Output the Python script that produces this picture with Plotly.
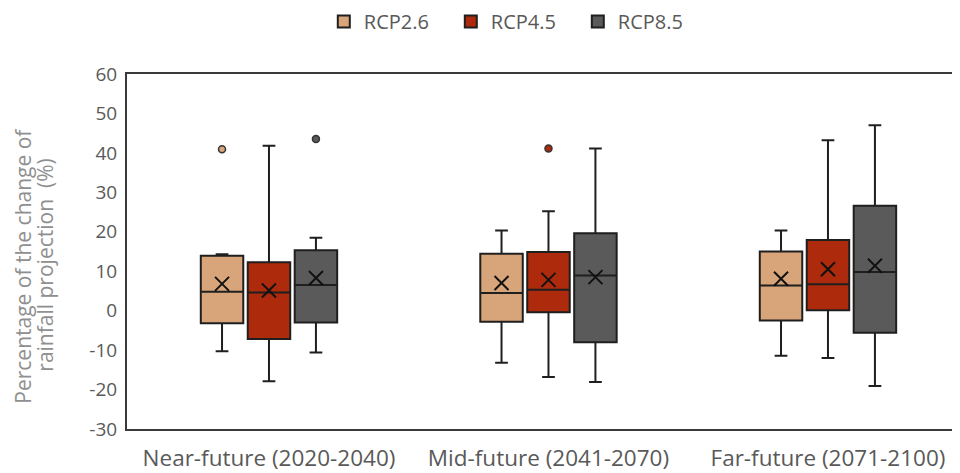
import plotly.graph_objects as go

categories = ["Near-future (2020-2040)", "Mid-future (2041-2070)", "Far-future (2071-2100)"]
series = ["RCP2.6", "RCP4.5", "RCP8.5"]

q1 = {
    "RCP2.6": [-3.2, -2.8, -2.5],
    "RCP4.5": [-7.2, -0.4, 0.1],
    "RCP8.5": [-3.0, -8.0, -5.6],
}
median = {
    "RCP2.6": [4.8, 4.5, 6.4],
    "RCP4.5": [4.6, 5.3, 6.7],
    "RCP8.5": [6.5, 8.9, 9.8],
}
q3 = {
    "RCP2.6": [13.9, 14.4, 15.0],
    "RCP4.5": [12.3, 14.9, 17.9],
    "RCP8.5": [15.3, 19.6, 26.6],
}
lower = {
    "RCP2.6": [-10.3, -13.2, -11.4],
    "RCP4.5": [-17.9, -16.8, -12.0],
    "RCP8.5": [-10.6, -18.1, -19.1],
}
upper = {
    "RCP2.6": [14.3, 20.3, 20.3],
    "RCP4.5": [41.8, 25.2, 43.2],
    "RCP8.5": [18.5, 41.1, 47.0],
}
mean = {
    "RCP2.6": [6.8, 7.0, 8.1],
    "RCP4.5": [5.1, 7.8, 10.5],
    "RCP8.5": [8.3, 8.5, 11.4],
}
outliers = {
    "RCP2.6": [(0, 40.9)],
    "RCP4.5": [(1, 41.1)],
    "RCP8.5": [(0, 43.5)],
}
y_ticks = [-30, -20, -10, 0, 10, 20, 30, 40, 50, 60]
y_ticktext = ["-30", "-20", "-10", "0", "10", "20", "30", "40", "50", "60"]
y_title_lines = ["Percentage of the change of", "rainfall projection  (%)"]

colors = {"RCP2.6": "#D8A57B", "RCP4.5": "#AE2A0C", "RCP8.5": "#5A5A5A"}
offsets = {"RCP2.6": -0.168, "RCP4.5": 0.0, "RCP8.5": 0.168}
edge = "#1f1f1f"

fig = go.Figure()
for s in series:
    xs = [i + offsets[s] for i in range(len(categories))]
    fig.add_trace(go.Box(
        name=s, x=xs, q1=q1[s], median=median[s], q3=q3[s],
        lowerfence=lower[s], upperfence=upper[s],
        width=0.152, whiskerwidth=0.3,
        fillcolor=colors[s], line=dict(color=edge, width=2),
        boxpoints=False, showlegend=True, hoverinfo="skip",
    ))
    fig.add_trace(go.Scatter(
        x=xs, y=mean[s], mode="markers", showlegend=False, hoverinfo="skip",
        marker=dict(symbol="x-thin", size=14, line=dict(color="#111111", width=2)),
    ))
    if outliers[s]:
        fig.add_trace(go.Scatter(
            x=[o[0] + offsets[s] for o in outliers[s]], y=[o[1] for o in outliers[s]],
            mode="markers", showlegend=False, hoverinfo="skip",
            marker=dict(symbol="circle", size=7, color=colors[s], line=dict(color="#333333", width=1.5)),
        ))

for txt, shift in zip(y_title_lines, [-104, -82]):
    fig.add_annotation(text=txt, xref="paper", yref="paper", x=0, y=0.46,
                       xanchor="center", yanchor="middle", xshift=shift, textangle=-90,
                       showarrow=False, font=dict(size=21, color="#8f8f8f"))

fig.update_layout(
    width=960, height=473,
    margin=dict(l=119, r=0, t=66, b=52, autoexpand=False),
    paper_bgcolor="white", plot_bgcolor="white",
    font=dict(family="Open Sans", color="#595959"),
    legend=dict(orientation="h", x=0.234, xanchor="left", yref="paper", y=1.148, yanchor="middle",
                font=dict(size=20, color="#595959"), itemwidth=30, traceorder="normal",
                entrywidth=82, entrywidthmode="pixels"),
    xaxis=dict(range=[-0.508, 2.501], tickvals=[0, 1, 2], ticktext=categories,
               showline=True, mirror=True, linecolor="#3a3a3a", linewidth=2,
               showgrid=False, zeroline=False, tickfont=dict(size=22.5, color="#595959"),
               ticks="", ticklabelstandoff=8, automargin=False),
    yaxis=dict(range=[-30, 60], tickvals=y_ticks, ticktext=y_ticktext, showline=True, mirror=False,
               linecolor="#3a3a3a", linewidth=2, showgrid=False, zeroline=False,
               tickfont=dict(size=19, color="#595959"), ticklabelstandoff=4, automargin=False),
)

fig.write_html("out.html")
